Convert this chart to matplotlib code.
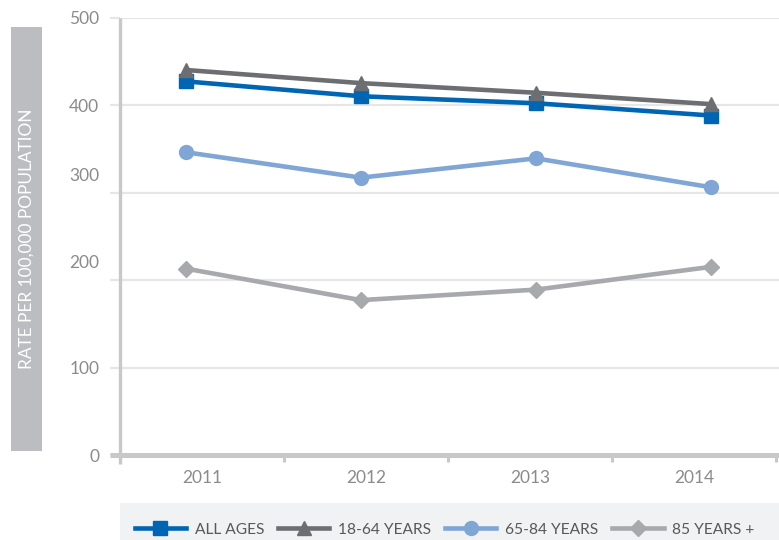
import matplotlib
matplotlib.use('Agg')
import matplotlib.pyplot as plt
import matplotlib.transforms as mtransforms
from matplotlib.patches import Rectangle

plt.rcParams['font.family'] = ['Lato', 'DejaVu Sans']

# --- data ---
years = ['2011', '2012', '2013', '2014']
all_ages = [427, 410, 402, 388]
age_18_64 = [440, 425, 414, 401]
age_65_84 = [346, 317, 339, 306]
age_85_plus = [213, 177, 189, 215]
series_labels = ['ALL AGES', '18-64 YEARS', '65-84 YEARS', '85 YEARS +']
y_ticks = [0, 100, 200, 300, 400, 500]

colors = ['#0066b3', '#6d6e71', '#80a6d6', '#a7a9ac']
markers = ['s', '^', 'o', 'D']
sizes = [10, 10, 10, 8.5]

W, H = 779, 540
fig = plt.figure(figsize=(W / 100, H / 100), dpi=100)

# axes: y-axis line at x=120, 0 at y=455, 500 at y=17.5
ax = fig.add_axes([120 / W, (H - 455) / H, (W - 120) / W, (455 - 17.5) / H])
ax.set_ylim(0, 500)
ax.set_xlim(-0.377, 3.389)

x = list(range(len(years)))
for vals, c, m, ms, lab in zip([all_ages, age_18_64, age_65_84, age_85_plus],
                               colors, markers, sizes, series_labels):
    ax.plot(x, vals, color=c, marker=m, markersize=ms, linewidth=3.3,
            label=lab, zorder=3, clip_on=False)

for s in ax.spines.values():
    s.set_visible(False)

ax.set_xticks([])
ax.set_yticks(y_ticks)
ax.set_yticklabels([str(v) for v in y_ticks])
ax.grid(axis='y', color='#e6e6e6', linewidth=1.6, zorder=0)
ax.set_axisbelow(True)
ax.tick_params(axis='y', length=7.5, width=1.6, color='#e6e6e6',
               labelsize=12.5, labelcolor='#8a8b8e', pad=7.5)

# the 300 and 200 labels sit higher than their gridlines in the original
for lbl, v in zip(ax.get_yticklabels(), y_ticks):
    if v in (200, 300):
        off = mtransforms.ScaledTranslation(0, 18 / 100, fig.dpi_scale_trans)
        lbl.set_transform(lbl.get_transform() + off)

# axis lines
ax.plot([0, 0], [-0.02, 1.0], transform=ax.transAxes, color='#c8c8c8',
        linewidth=2.4, clip_on=False, zorder=2, solid_capstyle='butt')
ax.plot([-0.015, 1], [0, 0], transform=ax.transAxes, color='#c8c8c8',
        linewidth=3.6, clip_on=False, zorder=2, solid_capstyle='butt')

# category bands for x labels (bands are 164 px wide, starting at the y-axis)
ax2 = ax.twiny()
ax2.set_xlim(0, (W - 120) / 164)
for s in ax2.spines.values():
    s.set_visible(False)
ax2.xaxis.set_ticks_position('bottom')
ax2.xaxis.set_label_position('bottom')
ax2.set_xticks([i + 0.5 for i in range(len(years))])
ax2.set_xticklabels(years)
ax2.set_xticks([1, 2, 3, 4], minor=True)
ax2.tick_params(axis='x', which='major', length=0, labelsize=12.5,
                labelcolor='#8a8b8e', pad=11)
ax2.tick_params(axis='x', which='minor', length=5, width=2.2, color='#c8c8c8')

# y-axis title box
fig.patches.append(Rectangle((11 / W, (H - 451) / H), 31 / W, 424 / H,
                             transform=fig.transFigure, facecolor='#bcbdc0',
                             edgecolor='none', zorder=0))
fig.text(26.5 / W, (H - 239) / H, 'RATE PER 100,000 POPULATION', rotation=90,
         ha='center', va='center', color='white', fontsize=12.4)

# legend box
fig.patches.append(Rectangle((120 / W, 0), (W - 120) / W, 37 / H,
                             transform=fig.transFigure, facecolor='#f1f2f4',
                             edgecolor='none', zorder=0))
fig.legend(loc='center', bbox_to_anchor=(444.5 / W, 10.5 / H), ncol=4,
           frameon=False, fontsize=11.2, labelcolor='#58595b',
           handlelength=3.3, handletextpad=0.55, columnspacing=0.9,
           borderaxespad=0, borderpad=0)

fig.savefig('out.png', dpi=100)
